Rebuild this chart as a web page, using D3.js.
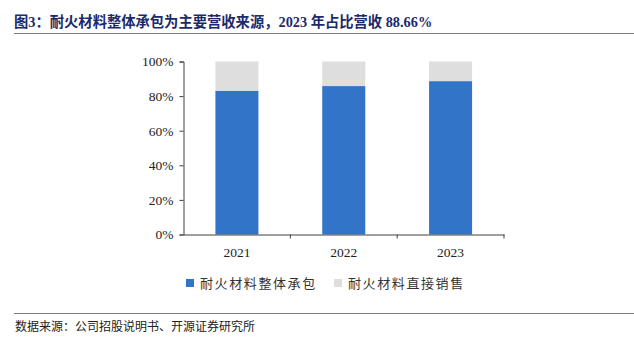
<!DOCTYPE html>
<html>
<head>
<meta charset="utf-8">
<script src="https://cdn.jsdelivr.net/npm/d3@7"></script>
<style>
  html, body { margin: 0; padding: 0; background: #fff; }
  svg { display: block; }
</style>
</head>
<body>
<svg id="chart" width="634" height="338"></svg>
<script>
// Revenue mix by year (share of operating revenue, %)
const years = ["2021", "2022", "2023"];
const contracting = [83.1, 85.8, 88.66];      // 耐火材料整体承包
const directSales = [16.9, 14.2, 11.34];      // 耐火材料直接销售
const seriesNames = ["耐火材料整体承包", "耐火材料直接销售"];
const yTicks = [0, 20, 40, 60, 80, 100];

const colors = ["#3174C8", "#DEDEDE"];
const cjk = "'Noto Sans CJK SC', 'Noto Sans', sans-serif";
const latinSerif = "'Liberation Serif', 'Times New Roman', serif";

const svg = d3.select("#chart");

// Title
svg.append("text")
  .attr("x", 14).attr("y", 27)
  .attr("fill", "#1B2A6B")
  .attr("font-weight", "bold")
  .attr("font-size", 14.3)
  .style("font-family", latinSerif + ", " + cjk)
  .text("图3：耐火材料整体承包为主要营收来源，2023 年占比营收 88.66%");

svg.append("line")
  .attr("x1", 14).attr("x2", 634).attr("y1", 33.5).attr("y2", 33.5)
  .attr("stroke", "#7F7F7F").attr("stroke-width", 1.2);

// Plot area
const plot = { left: 183.5, right: 504, top: 61.5, bottom: 234.5 };

const x = d3.scaleBand().domain(years).range([plot.left, plot.right]).paddingInner(0).paddingOuter(0);
const y = d3.scaleLinear().domain([0, 100]).range([plot.bottom, plot.top]);

const barW = 43;

const rows = years.map((yr, i) => ({ year: yr, a: contracting[i], b: directSales[i] }));
const stacked = d3.stack().keys(["a", "b"])(rows);

svg.append("g").selectAll("g")
  .data(stacked).join("g")
  .attr("fill", (d, i) => colors[i])
  .selectAll("rect")
  .data(d => d).join("rect")
  .attr("x", d => x(d.data.year) + x.bandwidth() / 2 - barW / 2)
  .attr("width", barW)
  .attr("y", d => y(d[1]))
  .attr("height", d => y(d[0]) - y(d[1]));

// Y axis
const yAxis = d3.axisLeft(y).tickValues(yTicks).tickFormat(d => d + "%").tickSize(4).tickPadding(6);
const gy = svg.append("g").attr("transform", `translate(${plot.left},0)`).call(yAxis);
gy.select(".domain").attr("stroke", "#404040");
gy.selectAll(".tick line").attr("stroke", "#404040");
gy.selectAll("text")
  .attr("fill", "#222")
  .attr("font-size", 13.5)
  .style("font-family", latinSerif);

// X axis with ticks between categories
const xAxis = d3.axisBottom(x).tickSize(0).tickPadding(13);
const gx = svg.append("g").attr("transform", `translate(0,${plot.bottom})`).call(xAxis);
gx.select(".domain").attr("stroke", "#404040");
gx.selectAll("text")
  .attr("fill", "#222")
  .attr("font-size", 13.5)
  .style("font-family", latinSerif);

const boundaries = years.map(yr => x(yr) + x.bandwidth());
gx.selectAll(".sep").data(boundaries).join("line")
  .attr("class", "sep")
  .attr("x1", d => d).attr("x2", d => d)
  .attr("y1", 0).attr("y2", 4)
  .attr("stroke", "#404040");

// Legend
const legendItems = [
  { name: seriesNames[0], color: colors[0], x: 186 },
  { name: seriesNames[1], color: colors[1], x: 334 }
];
const lg = svg.append("g");
legendItems.forEach(it => {
  lg.append("rect")
    .attr("x", it.x).attr("y", 279)
    .attr("width", 8).attr("height", 8)
    .attr("fill", it.color);
  lg.append("text")
    .attr("x", it.x + 14).attr("y", 288)
    .attr("fill", "#333")
    .attr("font-size", 13)
    .attr("letter-spacing", 1.6)
    .style("font-family", cjk)
    .text(it.name);
});

// Footer
svg.append("line")
  .attr("x1", 14).attr("x2", 634).attr("y1", 313.5).attr("y2", 313.5)
  .attr("stroke", "#7F7F7F").attr("stroke-width", 1.2);

svg.append("text")
  .attr("x", 15).attr("y", 331)
  .attr("fill", "#222")
  .attr("font-size", 12)
  .style("font-family", cjk)
  .text("数据来源：公司招股说明书、开源证券研究所");
</script>
</body>
</html>
